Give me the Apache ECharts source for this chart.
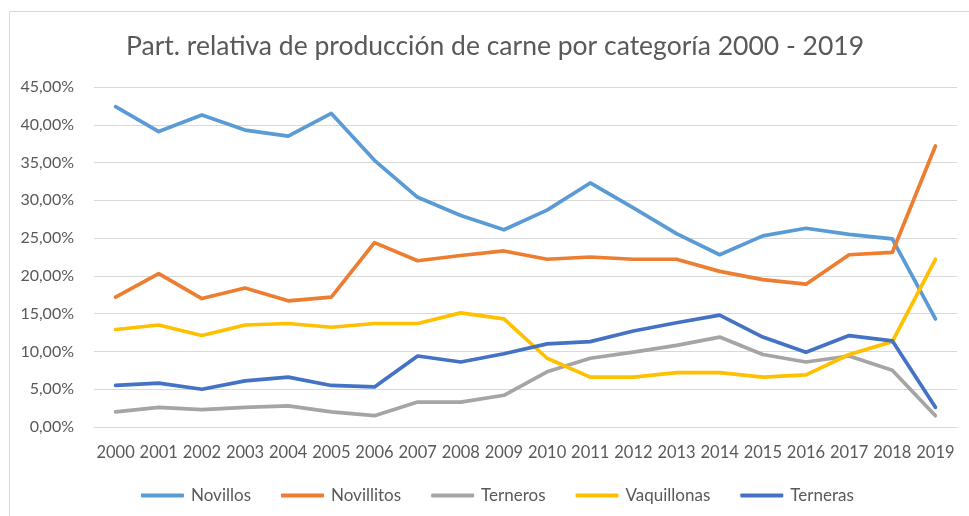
<!DOCTYPE html>
<html>
<head>
    <meta charset="utf-8"/>
    <title>Part. relativa de producción de carne</title>
    <script src="https://cdn.jsdelivr.net/npm/echarts@6.0.0/dist/echarts.min.js"></script>
    <style>
        html, body { margin: 0; padding: 0; background: #fff; }
    </style>
</head>
<body>
<div id="main" style="width: 969px;height:516px;"></div>

<script type="text/javascript">
    // years on the x axis
    var years = ['2000', '2001', '2002', '2003', '2004', '2005', '2006', '2007', '2008', '2009',
        '2010', '2011', '2012', '2013', '2014', '2015', '2016', '2017', '2018', '2019'];

    // share of production, in percent
    var novillos = [42.4, 39.1, 41.3, 39.3, 38.5, 41.5, 35.3, 30.4, 28.0, 26.1,
        28.7, 32.3, 29.0, 25.6, 22.8, 25.3, 26.3, 25.5, 24.9, 14.3];
    var novillitos = [17.2, 20.3, 17.0, 18.4, 16.7, 17.2, 24.4, 22.0, 22.7, 23.3,
        22.2, 22.5, 22.2, 22.2, 20.6, 19.5, 18.9, 22.8, 23.1, 37.2];
    var terneros = [2.0, 2.6, 2.3, 2.6, 2.8, 2.0, 1.5, 3.3, 3.3, 4.2,
        7.3, 9.1, 9.9, 10.8, 11.9, 9.6, 8.6, 9.4, 7.5, 1.5];
    var vaquillonas = [12.9, 13.5, 12.1, 13.5, 13.7, 13.2, 13.7, 13.7, 15.1, 14.3,
        9.1, 6.6, 6.6, 7.2, 7.2, 6.6, 6.9, 9.6, 11.3, 22.2];
    var terneras = [5.5, 5.8, 5.0, 6.1, 6.6, 5.5, 5.3, 9.4, 8.6, 9.7,
        11.0, 11.3, 12.7, 13.8, 14.8, 11.9, 9.9, 12.1, 11.4, 2.6];

    var seriesNames = ['Novillos', 'Novillitos', 'Terneros', 'Vaquillonas', 'Terneras'];
    var seriesData = [novillos, novillitos, terneros, vaquillonas, terneras];
    var colors = ['#5B9BD5', '#ED7D31', '#A5A5A5', '#FFC000', '#4472C4'];

    var fontName = 'Lato';
    var textColor = '#595959';

    var myChart = echarts.init(document.getElementById('main'));

    var series = [];
    for (var i = 0; i < seriesNames.length; i++) {
        series.push({
            name: seriesNames[i],
            type: 'line',
            data: seriesData[i],
            symbol: 'none',
            lineStyle: {width: 3.7, cap: 'round', join: 'round'},
            itemStyle: {color: colors[i]}
        });
    }

    var option = {
        animation: false,
        color: colors,
        graphic: [{
            type: 'rect',
            shape: {x: 9.5, y: 11.5, width: 980, height: 520},
            style: {fill: 'none', stroke: '#D9D9D9', lineWidth: 1},
            silent: true
        }],
        title: {
            text: 'Part. relativa de producción de carne por categoría 2000 - 2019',
            left: 490,
            textAlign: 'center',
            top: 28,
            textStyle: {
                fontFamily: fontName,
                fontWeight: 'normal',
                fontSize: 26.5,
                color: textColor
            }
        },
        legend: {
            data: seriesNames,
            left: 136,
            top: 482,
            icon: 'roundRect',
            itemWidth: 43,
            itemHeight: 4,
            itemGap: 30,
            textStyle: {
                fontFamily: fontName,
                fontSize: 17,
                color: textColor,
                padding: [0, 0, 0, 2]
            }
        },
        grid: {
            left: 94,
            right: 12,
            top: 87,
            bottom: 89
        },
        xAxis: {
            type: 'category',
            data: years,
            boundaryGap: true,
            axisLine: {show: true, lineStyle: {color: '#D9D9D9', width: 1}},
            axisTick: {show: false},
            axisLabel: {
                fontFamily: fontName,
                fontSize: 16.5,
                color: textColor,
                margin: 17,
                interval: 0
            }
        },
        yAxis: {
            type: 'value',
            min: 0,
            max: 45,
            interval: 5,
            axisLine: {show: false},
            axisTick: {show: false},
            splitLine: {lineStyle: {color: '#D9D9D9', width: 1}},
            axisLabel: {
                fontFamily: fontName,
                fontSize: 16,
                color: textColor,
                margin: 20,
                formatter: function (v) {
                    return v.toFixed(2).replace('.', ',') + '%';
                }
            }
        },
        series: series
    };

    myChart.setOption(option);
</script>
</body>
</html>
